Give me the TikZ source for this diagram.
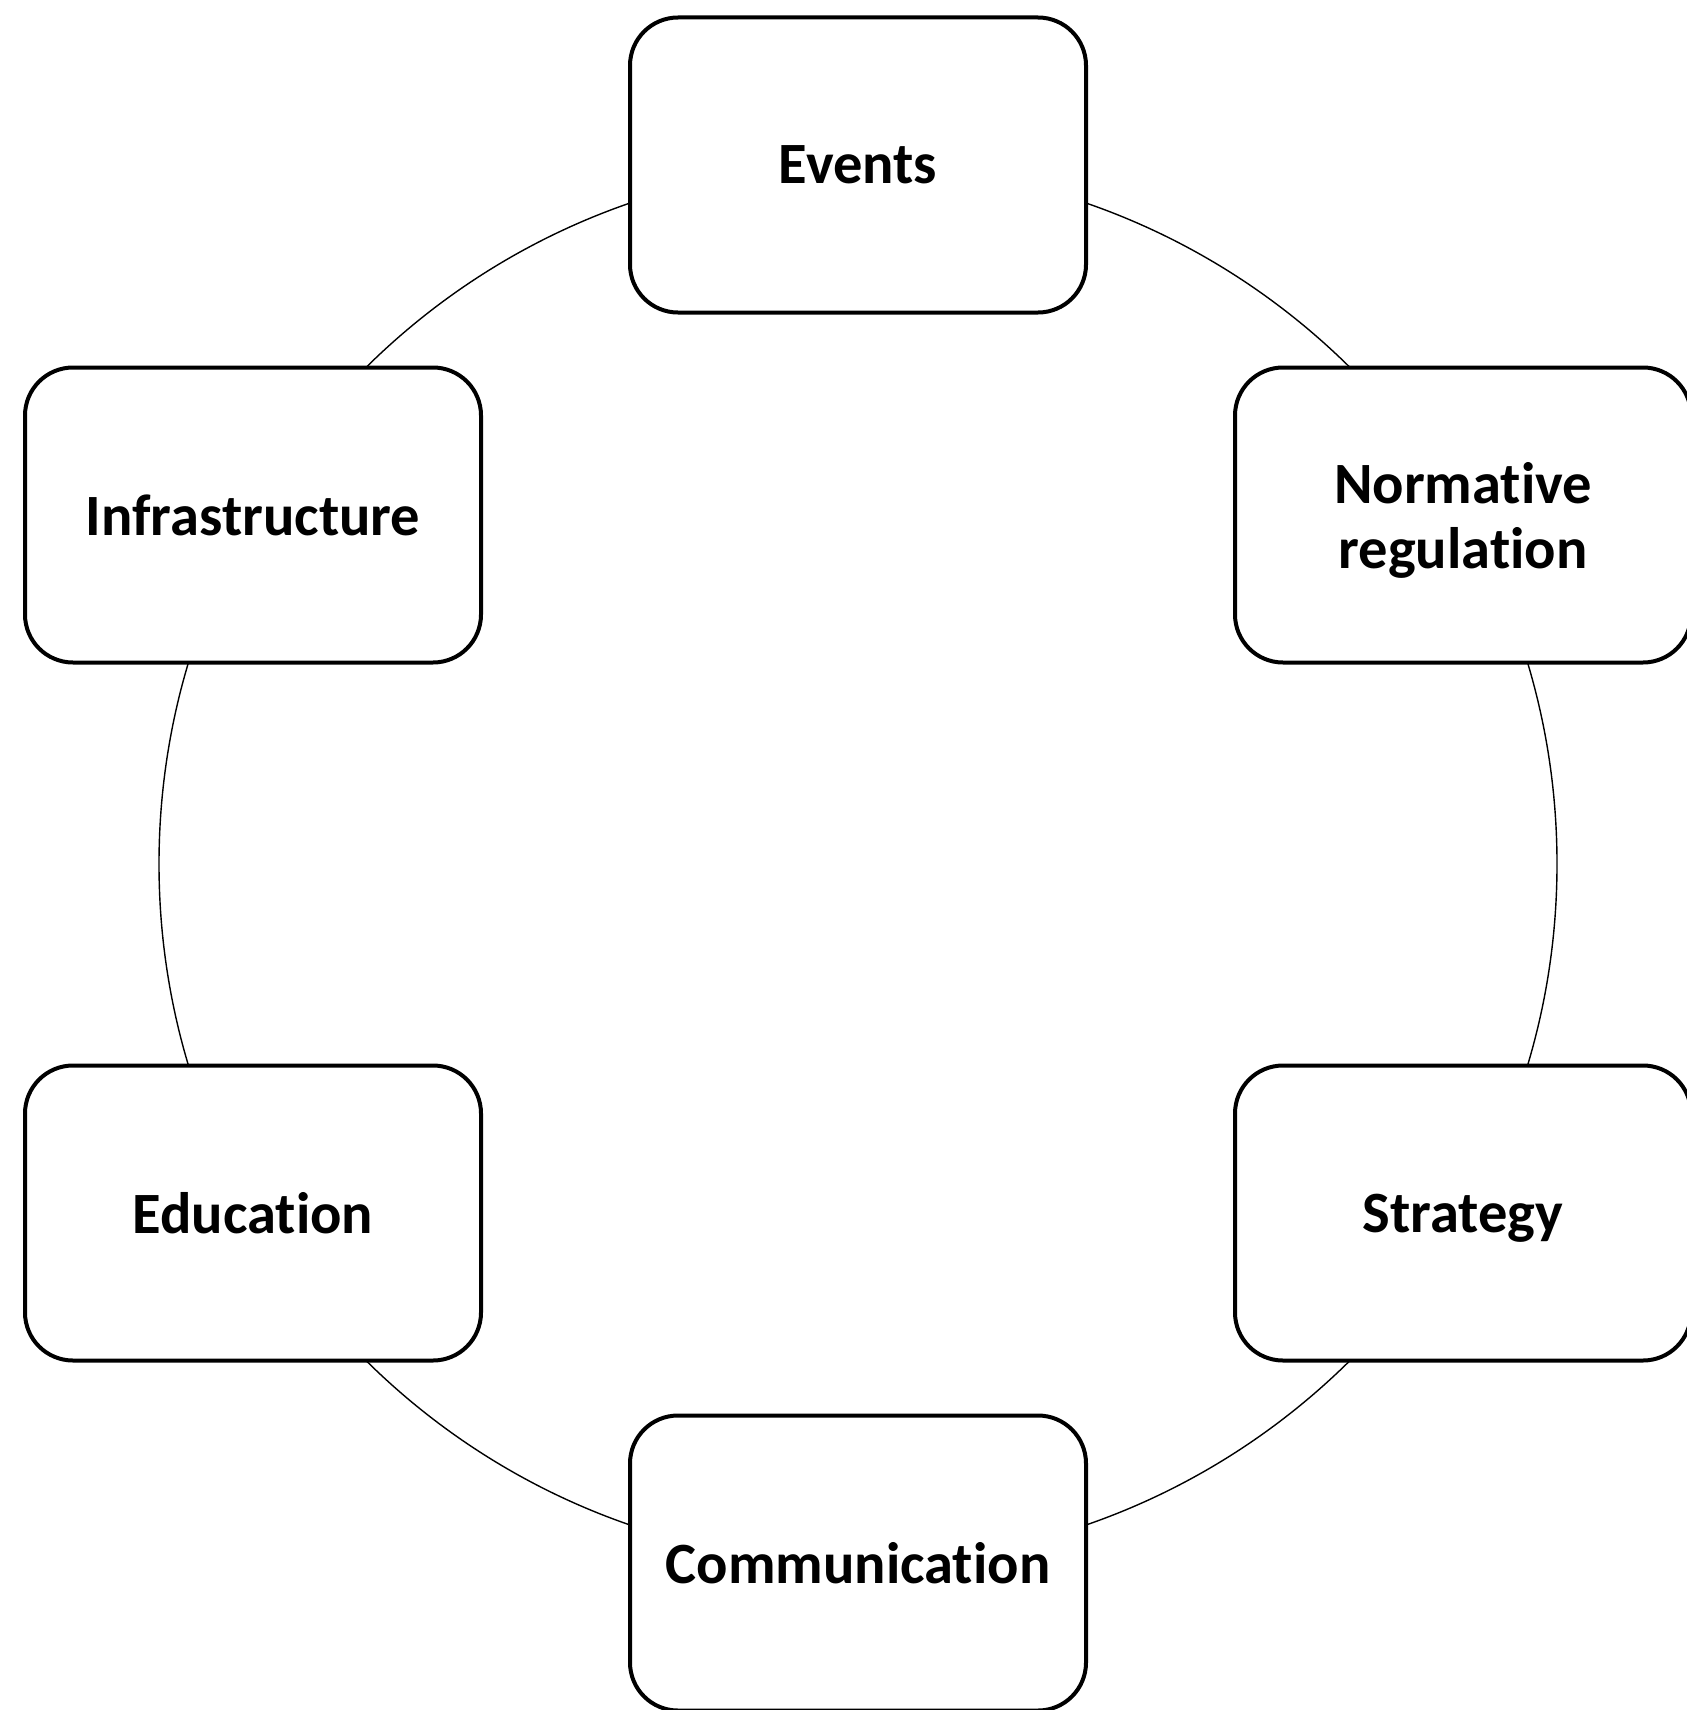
\documentclass[tikz,border=0pt]{standalone}
\usepackage{fontspec}
\setmainfont[Ligatures={NoCommon}]{Carlito}
\begin{document}
\begin{tikzpicture}[x=1pt,y=-1pt,
  box/.style={draw=black, line width=4pt, fill=white, rounded corners=48pt,
    minimum width=456pt, minimum height=295pt, align=center,
    font=\fontsize{58.5}{65}\selectfont\bfseries, inner sep=0pt, text depth=0pt},
  ring/.style={draw=black, line width=1.4pt, circle, minimum size=1398pt, inner sep=0pt}]
\useasboundingbox (0,0) rectangle (1686,1710);
\node[ring] (ring) at (858,864) {};
\node[box] (events) at (858,165) {Events};
\node[box] (norm) at (1463,515) {Normative\\regulation};
\node[box] (strat) at (1463,1213) {Strategy};
\node[box] (comm) at (858,1563) {Communication};
\node[box] (edu) at (253,1213) {Education};
\node[box] (infra) at (253,515) {Infrastructure};
\end{tikzpicture}
\end{document}
